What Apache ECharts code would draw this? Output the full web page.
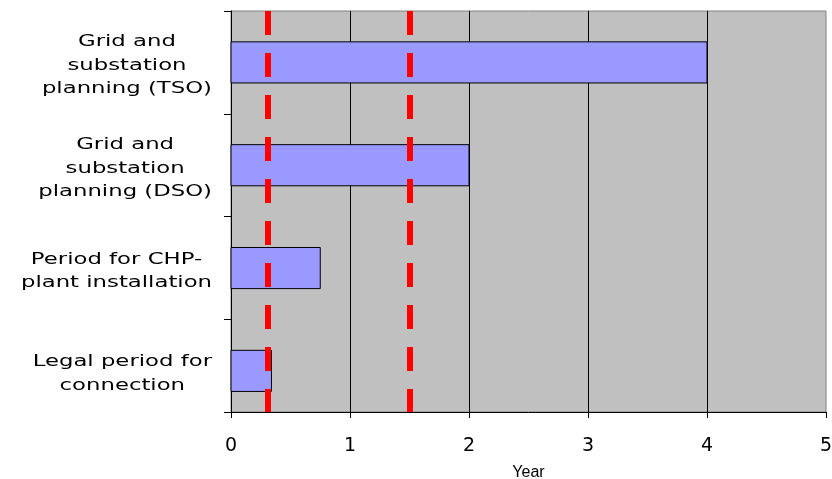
<!DOCTYPE html>
<html><head><meta charset="utf-8">
<script src="https://cdn.jsdelivr.net/npm/echarts@6/dist/echarts.min.js"></script>
<style>html,body{margin:0;padding:0;background:#fff}#c{width:832px;height:479px}</style>
</head><body><div id="c"></div>
<script>
var categories = ["Grid and\nsubstation\nplanning (TSO)", "Grid and\nsubstation\nplanning (DSO)", "Period for CHP-\nplant installation", "Legal period for\nconnection"];
var durations = [4.0, 2.0, 0.75, 0.34];
var markerYears = [0.31, 1.5];
var xTicks = [0, 1, 2, 3, 4, 5];
var axisName = "Year";

var catIdx = categories.map(function (c, i) { return i; });
var boundaries = categories.map(function (c, i) { return i - 0.5; }).concat([3.4]);

var chart = echarts.init(document.getElementById('c'));
chart.setOption({
  animation: false,
  backgroundColor: '#ffffff',
  textStyle: { fontFamily: 'DejaVu Sans' },
  grid: { left: 231, right: 6, top: 11, bottom: 67, outerBoundsMode: 'none', containLabel: false,
          show: true, backgroundColor: '#C0C0C0', borderColor: '#808080', borderWidth: 1 },
  xAxis: {
    type: 'value', min: xTicks[0], max: xTicks[xTicks.length - 1], interval: 1,
    name: axisName, nameLocation: 'middle', nameGap: 53,
    nameTextStyle: { fontSize: 16, color: '#000', fontFamily: 'Liberation Sans' },
    axisLine: { show: true, onZero: false, lineStyle: { color: '#000', width: 1 } },
    axisTick: { show: true, length: 6, lineStyle: { color: '#000' } },
    axisLabel: { fontSize: 19, color: '#000', margin: 25, fontFamily: 'DejaVu Sans' },
    splitLine: { show: true, showMinLine: false, showMaxLine: false, lineStyle: { color: '#000', width: 1 } }
  },
  yAxis: {
    type: 'value', inverse: true, min: -0.5, max: 3.4, interval: 1,
    axisLine: { show: true, onZero: false, lineStyle: { color: '#000', width: 1 } },
    axisTick: { show: true, length: 7, customValues: boundaries, lineStyle: { color: '#000' } },
    axisLabel: { show: false },
    splitLine: { show: false }
  },
  series: [{
    type: 'custom',
    data: durations.map(function (v, i) { return [v, catIdx[i]]; }),
    encode: { x: 0, y: 1 },
    renderItem: function (params, api) {
      var y = api.value(1);
      var p0 = api.coord([0, y]);
      var p1 = api.coord([api.value(0), y]);
      var h = api.size([0, 0.4])[1];
      return {
        type: 'rect',
        shape: { x: p0[0], y: p0[1] - h / 2, width: p1[0] - p0[0], height: h },
        style: { fill: '#9999FF', stroke: '#000', lineWidth: 1 }
      };
    },
    markLine: {
      silent: true, symbol: 'none', label: { show: false }, z: 10,
      lineStyle: { color: '#FF0000', width: 6, type: [24, 18] },
      data: markerYears.map(function (v) { return { xAxis: v }; })
    }
  }]
});

function placeLabels() {
  var SCALE = 1.38, FONT = 16.5, RIGHT = 212;
  var ctx = document.createElement('canvas').getContext('2d');
  ctx.font = FONT + 'px "DejaVu Sans"';
  var els = categories.map(function (c, i) {
    var y = chart.convertToPixel({ yAxisIndex: 0 }, i);
    var w = Math.max.apply(null, c.split('\n').map(function (l) { return ctx.measureText(l).width; })) * SCALE;
    return {
      type: 'text', x: RIGHT - w / 2, y: y + 3, scaleX: SCALE, silent: true,
      style: { text: c, fill: '#000', fontSize: FONT, fontFamily: 'DejaVu Sans',
               align: 'center', verticalAlign: 'middle', lineHeight: 23.5 }
    };
  });
  chart.setOption({ graphic: els });
}
placeLabels();
</script></body></html>
